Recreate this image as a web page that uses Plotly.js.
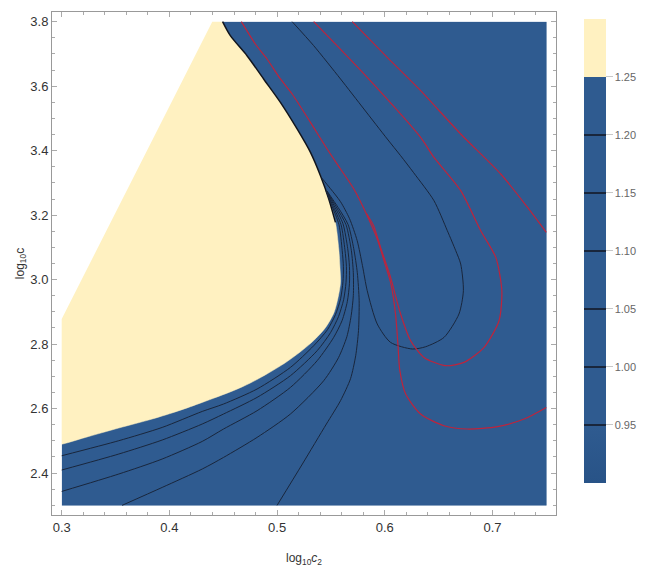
<!DOCTYPE html>
<html>
<head>
<meta charset="utf-8">
<script src="https://cdn.plot.ly/plotly-3.0.1.min.js"></script>
<style>html,body{margin:0;padding:0;background:#fff;}#chart{width:654px;height:575px;}</style>
</head>
<body>
<div id="chart"></div>
<script>
// ---- data (x = log10 c2, y = log10 c) ----
const domainX = [0.3, 0.75, 0.75, 0.4398, 0.3];
const domainY = [2.3, 2.3, 3.8, 3.8, 2.8778];

// edge of the undefined (white) region
const edgeX = [0.3, 0.4398];
const edgeY = [2.8778, 3.8];

// 1.25 contour (yellow / blue boundary), from top to the left edge
const boundX = [0.4494,0.4566,0.4721,0.4875,0.5031,0.5186,0.5310,0.5403,0.5480,0.5542,0.5573,0.5584,0.5589,0.5566,0.5528,0.5449,0.5338,0.5217,0.5077,0.4910,0.4752,0.4593,0.4305,0.4088,0.3840,0.3530,0.3220,0.3];
const boundY = [3.8,3.7566,3.6945,3.6223,3.5497,3.4672,3.3946,3.3223,3.2501,3.1775,3.0950,3.0379,2.9914,2.9439,2.8974,2.8509,2.8105,2.7764,2.7423,2.7082,2.6794,2.6555,2.6192,2.5934,2.5677,2.5398,2.5106,2.4895];

// dark contour lines
const line1X = [0.3,0.3530,0.3933,0.4305,0.4503,0.4814,0.5124,0.5340,0.5468,0.5542,0.5590,0.5612,0.5616,0.5605,0.5575,0.5505,0.5455];
const line1Y = [2.4538,2.5004,2.5416,2.5912,2.6142,2.6607,2.7277,2.7950,2.8447,2.8912,2.9408,2.9935,3.0401,3.0897,3.1703,3.2324,3.2750];
const line2X = [0.3,0.3530,0.3933,0.4305,0.4503,0.4814,0.5124,0.5372,0.5496,0.5570,0.5618,0.5640,0.5644,0.5630,0.5594,0.5518,0.5457];
const line2Y = [2.4095,2.4591,2.5025,2.5522,2.5832,2.6347,2.7020,2.7795,2.8354,2.8850,2.9377,2.9905,3.0401,3.0928,3.1703,3.2293,3.2750];
const line3X = [0.3,0.3530,0.3933,0.4305,0.4503,0.4814,0.5124,0.5372,0.5524,0.5603,0.5652,0.5672,0.5672,0.5656,0.5612,0.5530,0.5459];
const line3Y = [2.3431,2.3971,2.4436,2.4982,2.5367,2.5934,2.6657,2.7485,2.8199,2.8726,2.9315,2.9873,3.0401,3.0959,3.1734,3.2293,3.2750];
const line4X = [0.3561,0.3933,0.4305,0.4503,0.4814,0.5124,0.5433,0.5570,0.5648,0.5688,0.5708,0.5708,0.5690,0.5640,0.5548,0.5461];
const line4Y = [2.3,2.3555,2.4126,2.4486,2.5106,2.5832,2.6865,2.7578,2.8229,2.8881,2.9501,3.0215,3.0897,3.1703,3.2262,3.2750];
const line5X = [0.5000,0.5235,0.5458,0.5589,0.5682,0.5730,0.5756,0.5762,0.5745,0.5712,0.5660,0.5568,0.5463];
const line5Y = [2.3,2.4281,2.5522,2.6245,2.6927,2.7640,2.8416,2.9346,3.0215,3.0959,3.1703,3.2231,3.2750];
const loopX = [0.5140,0.5340,0.5589,0.5806,0.6023,0.6147,0.6268,0.6457,0.6581,0.6659,0.6705,0.6730,0.6689,0.6550,0.6380,0.6256,0.6054,0.5930,0.5837,0.5793,0.5744,0.5673,0.5589,0.5496,0.5415];
const loopY = [3.8,3.7256,3.6223,3.5292,3.4362,3.3844,3.3316,3.2448,3.1517,3.0897,3.0485,2.9656,2.8934,2.8208,2.7919,2.7848,2.8053,2.8624,2.9656,3.0432,3.1207,3.1890,3.2417,3.2820,3.3150];

// red contour lines
const red1X = [0.4668,0.4798,0.4907,0.5031,0.5140,0.5310,0.5465,0.5589,0.5713,0.5837,0.5930,0.6007,0.6054,0.6100,0.6122,0.6140,0.6194,0.6333,0.6550,0.6767,0.7047,0.7294,0.75];
const red1Y = [3.8,3.7308,3.6843,3.6223,3.5757,3.4877,3.4051,3.3431,3.2811,3.1983,3.1260,3.0432,2.9914,2.8934,2.8003,2.7175,2.6452,2.5832,2.5469,2.5367,2.5439,2.5677,2.6037];
const red2X = [0.5340,0.5837,0.6333,0.6457,0.6705,0.6891,0.7031,0.7087,0.7061,0.6922,0.6736,0.6566,0.6364,0.6240,0.6147,0.6054,0.5961,0.5896,0.5830];
const red2Y = [3.8,3.6272,3.4411,3.3791,3.2758,3.1517,3.0689,2.9656,2.8726,2.7898,2.7433,2.7330,2.7587,2.8105,2.8934,3.0069,3.1000,3.1672,3.2050];
const red3X = [0.5698,0.6023,0.6333,0.6705,0.7077,0.7326,0.75];
const red3Y = [3.8,3.6893,3.5860,3.4517,3.3276,3.2240,3.1465];

// colour bar
const barMin = 0.9, barMax = 1.3;
const barLevels = [0.95, 1.00, 1.05, 1.10, 1.15, 1.20];
const barTop = 1.25;
const barTicks = [0.95, 1.00, 1.05, 1.10, 1.15, 1.20, 1.25];
const barTickText = ['0.95','1.00','1.05','1.10','1.15','1.20','1.25'];

// ---- styling / geometry helpers (not data) ----
const BLUE = 'rgb(47,91,144)';
const BLUE_LOW = 'rgb(40,83,135)';
const YELLOW = 'rgb(255,241,193)';
const DARK = 'rgb(25,38,60)';
const RED = 'rgb(190,36,60)';

// closure of the yellow region outside the plotted domain (hidden by the mask)
const outerX = [0.29, 0.29, 0.449];
const outerY = [2.486, 3.81, 3.81];
// white mask: left padding strip, undefined triangle, top padding strip
const maskX = [0.27, edgeX[0], edgeX[0], edgeX[1], 0.8, 0.8, 0.27];
const maskY = [2.2, 2.2, edgeY[0], edgeY[1], 3.8, 3.95, 3.95];

function fillTrace(x, y, color, shape) {
  return {type:'scatter', mode:'lines', x:x, y:y, fill:'toself', fillcolor:color,
          line:{color:color, width:0.5, shape:shape || 'linear', smoothing:0.8},
          hoverinfo:'skip', showlegend:false};
}
function lineTrace(x, y, color, w) {
  return {type:'scatter', mode:'lines', x:x, y:y,
          line:{color:color, width:w, shape:'spline', smoothing:0.7},
          hoverinfo:'skip', showlegend:false};
}

const yellowX = boundX.concat(outerX);
const yellowY = boundY.concat(outerY);
const nTop = 10;

// colour scale with thin dark bands at the contour levels
function frac(v){ return (v - barMin) / (barMax - barMin); }
const eps = 0.0012;
const scale = [[0, BLUE_LOW]];
barLevels.forEach(v => {
  const f = frac(v);
  scale.push([f - eps, BLUE], [f - eps, DARK], [f + eps, DARK], [f + eps, BLUE]);
});
scale.push([frac(barTop), BLUE], [frac(barTop), YELLOW], [1, YELLOW]);

const traces = [
  fillTrace(domainX, domainY, BLUE),
  fillTrace(yellowX, yellowY, YELLOW, 'spline'),
  {type:'scatter', mode:'lines', x:maskX, y:maskY, fill:'toself', fillcolor:'#fff',
   line:{color:'#fff', width:0}, hoverinfo:'skip', showlegend:false},
  {type:'scatter', mode:'lines', x:boundX.slice(0, nTop), y:boundY.slice(0, nTop),
   line:{color:'rgb(15,20,30)', width:1.5, shape:'spline', smoothing:0.8}, hoverinfo:'skip', showlegend:false},
  lineTrace(line1X, line1Y, DARK, 1),
  lineTrace(line2X, line2Y, DARK, 1),
  lineTrace(line3X, line3Y, DARK, 1),
  lineTrace(line4X, line4Y, DARK, 1),
  lineTrace(line5X, line5Y, DARK, 1),
  lineTrace(loopX, loopY, DARK, 1),
  lineTrace(red1X, red1Y, RED, 1.2),
  lineTrace(red2X, red2Y, RED, 1.2),
  lineTrace(red3X, red3Y, RED, 1.2),
  {type:'scatter', mode:'markers', x:[0.5], y:[3.0], hoverinfo:'skip', showlegend:false,
   marker:{size:1, opacity:0, color:[1.0], cmin:barMin, cmax:barMax, colorscale:scale, showscale:true,
     colorbar:{x:1.0556, xanchor:'left', xpad:0, ypad:0, y:0.5254, yanchor:'middle',
       thickness:22, thicknessmode:'pixels', len:464, lenmode:'pixels', outlinewidth:0,
       tickvals:barTicks, ticktext:barTickText, ticks:'outside', ticklen:7, tickcolor:'#c8c8c8',
       tickfont:{family:'Liberation Sans, Arial, sans-serif', size:11, color:'#666'}}}}
];

const axisCommon = {
  showgrid:false, zeroline:false, showline:true, linecolor:'#999', linewidth:1,
  mirror:'allticks', ticks:'inside', ticklen:5, tickcolor:'#aaa', tickwidth:1,
  tickfont:{family:'Liberation Sans, Arial, sans-serif', size:13, color:'#333'},
};

const layout = {
  width:654, height:575,
  margin:{l:52, r:98, t:12, b:60},
  paper_bgcolor:'#fff', plot_bgcolor:'#fff',
  font:{family:'Liberation Sans, Arial, sans-serif', color:'#333'},
  xaxis: Object.assign({}, axisCommon, {
    range:[0.291, 0.759], tickvals:[0.3,0.4,0.5,0.6,0.7], ticktext:['0.3','0.4','0.5','0.6','0.7'],
    minor:{ticks:'inside', ticklen:3, tickcolor:'#aaa', dtick:0.02, tick0:0.3},
    title:{text:'log<sub>10</sub><i>c</i><sub>2</sub>', standoff:20, font:{size:12, color:'#333'}}
  }),
  yaxis: Object.assign({}, axisCommon, {
    range:[2.27, 3.83], tickvals:[2.4,2.6,2.8,3.0,3.2,3.4,3.6,3.8],
    ticktext:['2.4','2.6','2.8','3.0','3.2','3.4','3.6','3.8'],
    minor:{ticks:'inside', ticklen:3, tickcolor:'#aaa', dtick:0.05, tick0:2.3},
    title:{text:'log<sub>10</sub>c', standoff:3, font:{size:12, color:'#333'}}
  })
};

Plotly.newPlot('chart', traces, layout, {displayModeBar:false, staticPlot:true});
</script>
</body>
</html>
